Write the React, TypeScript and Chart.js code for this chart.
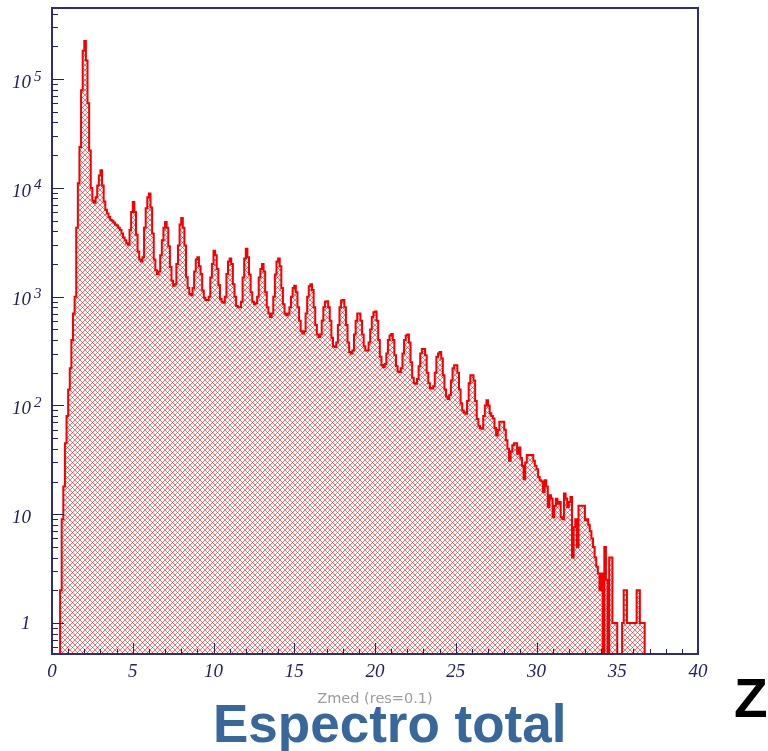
import React, { useEffect, useRef } from 'react';
import { Chart, registerables } from 'chart.js';

Chart.register(...registerables);

// ---- Data (histogram, bin width 0.1 in Zmed) ----
const BIN_WIDTH = 0.1;
const X_MIN = 0;
const X_MAX = 40;
const X_LABEL_STEP = 5;
const Y_MIN = 0.52;
const Y_MAX = 450000;
const Y_DECADE_EXPONENTS = [0, 1, 2, 3, 4, 5];
const X_TITLE = 'Zmed (res=0.1)';
const SLIDE_TITLE = 'Espectro total';
const SIDE_LABEL = 'Z';

// counts per bin, Z 0.0 - 10.0
const countsZ0to10 = [
  0, 0, 0, 0, 0, 2, 9, 18, 45, 80,
  140, 220, 400, 700, 1000, 4300, 11000, 23700, 79000, 182000,
  224000, 148000, 60000, 22000, 10000, 7600, 7300, 8200, 10500, 13000,
  14500, 10500, 7500, 6300, 5800, 5400, 5100, 5000, 4800, 4600,
  4500, 4300, 4100, 3800, 3500, 3300, 3100, 3000, 4100, 6000,
  7400, 6000, 3700, 2600, 2200, 2100, 2300, 4300, 6500, 8200,
  8900, 6600, 3800, 2200, 1750, 1620, 1700, 2400, 3300, 4300,
  4850, 4300, 2900, 1870, 1400, 1260, 1300, 2000, 2950, 4600,
  5300, 4300, 2950, 1510, 1200, 1060, 1030, 1200, 1700, 2200,
  2300, 1900, 1620, 1140, 980, 930, 930, 1000, 1500, 2000,
];
// Z 10.0 - 20.0
const countsZ10to20 = [
  2650, 2400, 1800, 1280, 950, 900, 880, 1000, 1620, 2100,
  2240, 2000, 1300, 1000, 820, 800, 800, 900, 1500, 2240,
  2760, 2300, 1600, 1100, 900, 850, 870, 1000, 1500, 1800,
  2000, 1700, 1100, 800, 700, 650, 700, 1000, 1600, 2100,
  2240, 1900, 1200, 850, 700, 675, 700, 800, 1000, 1200,
  1260, 1100, 800, 600, 480, 460, 480, 700, 1000, 1250,
  1300, 1150, 800, 550, 450, 425, 450, 600, 800, 900,
  910, 800, 600, 420, 350, 345, 380, 550, 800, 920,
  930, 800, 550, 380, 310, 300, 320, 450, 600, 700,
  700, 600, 450, 350, 320, 320, 380, 500, 650, 720,
];
// Z 20.0 - 30.0
const countsZ20to30 = [
  730, 600, 400, 280, 235, 225, 240, 300, 400, 440,
  455, 400, 290, 230, 205, 203, 220, 300, 400, 440,
  450, 380, 250, 180, 160, 158, 175, 230, 300, 330,
  330, 290, 200, 160, 145, 143, 150, 200, 280, 300,
  310, 270, 190, 140, 120, 115, 125, 170, 220, 234,
  234, 200, 140, 105, 90, 86, 84, 110, 160, 190,
  190, 170, 110, 75, 65, 62, 61, 80, 100, 112,
  100, 85, 80, 76, 62, 53, 60, 71, 71, 71,
  60, 48, 40, 31, 38, 43, 45, 45, 36, 41,
  33, 28, 21, 30, 35, 35, 35, 35, 31, 28,
];
// Z 30.0 - 40.0
const countsZ30to40 = [
  26, 22, 20.5, 20, 16, 20.5, 18, 11.7, 15, 14,
  9.4, 12, 13.9, 12.5, 13, 9.4, 9, 15.5, 14, 11.7,
  13, 14.4, 4, 7.6, 9, 5, 12, 12, 12, 12,
  8.8, 9, 8, 7, 6, 5, 4, 3.3, 2.85, 2,
  2.85, 0, 5, 2.5, 0, 4, 4, 1, 1, 1,
  0, 0, 0, 1, 2, 2, 1, 1, 1, 1,
  1, 1, 2, 2, 1, 1, 1, 0, 0, 0,
  0, 0, 0, 0, 0, 0, 0, 0, 0, 0,
  0, 0, 0, 0, 0, 0, 0, 0, 0, 0,
  0, 0, 0, 0, 0, 0, 0, 0, 0, 0,
];

// ---- Styles ----
const NAVY = '#22226a';
const FRAME = '#2e2e78';
const RED = 'rgb(245,0,0)';
const TITLE_BLUE = '#37679b';
const SERIF_ITALIC = (px: number) => `italic ${px}px 'Liberation Serif', 'Times New Roman', serif`;
// empty bins are drawn just under the axis floor (log scale cannot show 0)
const EMPTY_BIN_DRAW = 0.1;

function makeHatch(ctx: CanvasRenderingContext2D): CanvasPattern | string {
  const p = 5;
  const c = document.createElement('canvas');
  c.width = p;
  c.height = p;
  const g = c.getContext('2d');
  if (!g) return 'rgba(240,150,150,0.5)';
  g.strokeStyle = 'rgba(240,0,0,0.55)';
  g.lineWidth = 1;
  for (const k of [-1, 0, 1]) {
    g.beginPath();
    g.moveTo(k * p, 0);
    g.lineTo(k * p + p, p);
    g.moveTo(k * p, p);
    g.lineTo(k * p + p, 0);
    g.stroke();
  }
  return ctx.createPattern(c, 'repeat') || 'rgba(240,150,150,0.5)';
}

const rootDecor = {
  id: 'rootDecor',
  afterDatasetsDraw(chart: any) {
    const { ctx, chartArea: a, scales } = chart;
    const x = scales.x;
    const y = scales.y;
    ctx.save();
    // frame
    ctx.strokeStyle = FRAME;
    ctx.lineWidth = 2;
    ctx.strokeRect(a.left, a.top, a.right - a.left, a.bottom - a.top);
    // x ticks (inside)
    ctx.strokeStyle = NAVY;
    ctx.lineWidth = 1;
    ctx.beginPath();
    for (let z = X_MIN + 1; z < X_MAX; z += 1) {
      const px = Math.round(x.getPixelForValue(z)) + 0.5;
      const len = z % X_LABEL_STEP === 0 ? 11 : 5;
      ctx.moveTo(px, a.bottom);
      ctx.lineTo(px, a.bottom - len);
    }
    // y ticks (inside), decades + minor
    for (let d = -1; d <= 5; d++) {
      for (let k = 1; k <= 9; k++) {
        const v = k * Math.pow(10, d);
        if (v < Y_MIN || v > Y_MAX) continue;
        const py = Math.round(y.getPixelForValue(v)) + 0.5;
        const len = k === 1 ? 12 : 6;
        ctx.moveTo(a.left, py);
        ctx.lineTo(a.left + len, py);
      }
    }
    ctx.stroke();
    ctx.restore();
  },
  afterDraw(chart: any) {
    const { ctx, scales } = chart;
    const y = scales.y;
    ctx.save();
    ctx.fillStyle = NAVY;
    ctx.textBaseline = 'alphabetic';
    ctx.textAlign = 'left';
    for (const e of Y_DECADE_EXPONENTS) {
      const py = y.getPixelForValue(Math.pow(10, e));
      ctx.font = SERIF_ITALIC(19);
      if (e === 0) {
        ctx.fillText('1', 21, py + 5.8);
      } else {
        ctx.fillText('10', 12, py + 8.7);
        if (e >= 2) {
          ctx.font = SERIF_ITALIC(15);
          ctx.fillText(String(e), 34, py + 1.6);
        }
      }
    }
    // slide texts
    ctx.fillStyle = TITLE_BLUE;
    ctx.font = "bold 53px 'Liberation Sans', Arial, sans-serif";
    ctx.fillText(SLIDE_TITLE, 213, 742);
    ctx.fillStyle = '#000000';
    ctx.font = "bold 55px 'Liberation Sans', Arial, sans-serif";
    ctx.fillText(SIDE_LABEL, 734, 717);
    ctx.restore();
  },
};

export default function App() {
  const ref = useRef<HTMLCanvasElement>(null);

  useEffect(() => {
    const canvas = ref.current;
    if (!canvas) return;
    const ctx = canvas.getContext('2d');
    if (!ctx) return;
    const hatch = makeHatch(ctx);

    const counts = [...countsZ0to10, ...countsZ10to20, ...countsZ20to30, ...countsZ30to40];
    const points = counts.map((c, i) => ({
      x: Math.round(i * BIN_WIDTH * 10) / 10,
      y: c > 0 ? c : EMPTY_BIN_DRAW,
    }));
    const last = counts[counts.length - 1];
    points.push({ x: X_MAX, y: last > 0 ? last : EMPTY_BIN_DRAW });

    const chart = new Chart(canvas, {
      type: 'line',
      data: {
        datasets: [
          {
            data: points,
            stepped: true,
            borderColor: RED,
            borderWidth: 2,
            backgroundColor: hatch as any,
            fill: 'start',
            pointRadius: 0,
            tension: 0,
          },
        ],
      },
      options: {
        animation: false,
        responsive: false,
        devicePixelRatio: 1,
        events: [],
        layout: { padding: { left: 0, right: 70, top: 8, bottom: 0 } },
        plugins: {
          legend: { display: false },
          tooltip: { enabled: false },
        },
        scales: {
          x: {
            type: 'linear',
            min: X_MIN,
            max: X_MAX,
            afterFit: (s: any) => {
              s.height = 97;
            },
            grid: { display: false, drawTicks: false },
            border: { display: false },
            ticks: {
              stepSize: X_LABEL_STEP,
              autoSkip: false,
              maxRotation: 0,
              padding: 7,
              color: NAVY,
              font: { family: "'Liberation Serif', 'Times New Roman', serif", style: 'italic', size: 19 },
            },
            title: {
              display: true,
              text: X_TITLE,
              color: '#9c9c9c',
              font: { family: "'DejaVu Sans', sans-serif", size: 14.5 },
              padding: { top: 0, bottom: 43 },
            },
          },
          y: {
            type: 'logarithmic',
            min: Y_MIN,
            max: Y_MAX,
            afterFit: (s: any) => {
              s.width = 52;
            },
            grid: { display: false, drawTicks: false },
            border: { display: false },
            ticks: { display: false },
          },
        },
      },
      plugins: [rootDecor],
    } as any);

    return () => chart.destroy();
  }, []);

  return (
    <div style={{ position: 'fixed', left: 0, top: 0, width: 768, height: 751, background: '#ffffff' }}>
      <canvas ref={ref} width={768} height={751} style={{ display: 'block', width: 768, height: 751 }} />
    </div>
  );
}
